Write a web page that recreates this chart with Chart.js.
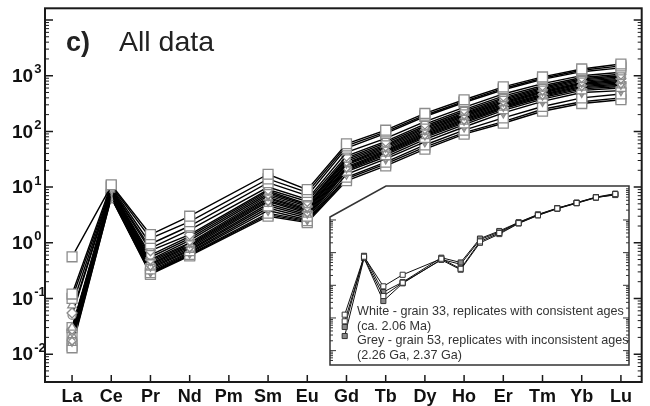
<!DOCTYPE html>
<html>
<head>
<meta charset="utf-8">
<script src="https://cdn.jsdelivr.net/npm/chart.js@4.4.1/dist/chart.umd.min.js"></script>
<style>
  html, body { margin: 0; padding: 0; background: #fff; }
  #wrap { position: relative; width: 650px; height: 406px; font-family: "Liberation Sans", Arial, sans-serif; }
  #main { position: absolute; left: 0; top: 0; width: 650px; height: 406px; }
  #inset { position: absolute; left: 325px; top: 181px; width: 309px; height: 189px; }
  .title { position: absolute; left: 66px; top: 25px; font-size: 27px; color: #222; white-space: nowrap; line-height: normal; }
  .title b { margin-right: 29px; }
  .title span { font-size: 28.5px; }
  .note { position: absolute; left: 357px; top: 304px; font-size: 12.6px; line-height: 14.7px; color: #333; white-space: nowrap; }
</style>
</head>
<body>
<div id="wrap">
  <canvas id="main" width="650" height="406"></canvas>
  <canvas id="inset" width="309" height="189"></canvas>
  <div class="title"><b>c)</b><span>All data</span></div>
  <div class="note">White - grain 33, replicates with consistent ages<br>(ca. 2.06 Ma)<br>Grey - grain 53, replicates with inconsistent ages<br>(2.26 Ga, 2.37 Ga)</div>
</div>
<script>
// rare earth elements (chondrite normalised), Pm not measured
const elements = ['La', 'Ce', 'Pr', 'Nd', 'Pm', 'Sm', 'Eu', 'Gd', 'Tb', 'Dy', 'Ho', 'Er', 'Tm', 'Yb', 'Lu'];

// all analyses
const g01 = [0.12, 11, 1.4, 3.0, null, 17, 9.0, 60, 105, 210, 370, 630, 950, 1320, 1620];
const g02 = [0.56, 10.5, 1.2, 2.4, null, 14, 8.0, 55, 98, 195, 345, 590, 900, 1250, 1500];
const g03 = [0.10, 10, 0.95, 2.0, null, 12, 7.0, 50, 92, 185, 330, 560, 860, 1180, 1380];
const g04 = [0.075, 9.5, 0.8, 1.7, null, 10, 6.0, 42, 75, 150, 270, 470, 720, 1000, 1150];
const g05 = [0.055, 9.2, 0.72, 1.4, null, 9.0, 5.5, 36, 66, 135, 245, 430, 660, 930, 1060];
const g06 = [0.05, 9.0, 0.6, 1.3, null, 8.5, 5.0, 33, 62, 125, 230, 400, 620, 880, 1000];
const g07 = [0.03, 8.8, 0.55, 1.2, null, 8.0, 4.8, 31, 58, 118, 215, 380, 590, 840, 950];
const g08 = [0.028, 8.6, 0.5, 1.1, null, 7.5, 4.5, 29, 55, 112, 205, 360, 560, 800, 900];
const g09 = [0.025, 8.4, 0.48, 1.0, null, 7.0, 4.2, 27, 52, 105, 195, 340, 530, 760, 860];
const g10 = [0.022, 8.2, 0.45, 0.95, null, 6.5, 4.0, 26, 49, 100, 185, 325, 510, 730, 820];
const g11 = [0.02, 8.0, 0.42, 0.9, null, 6.2, 3.8, 25, 46, 95, 175, 310, 490, 700, 780];
const g12 = [0.018, 7.8, 0.4, 0.85, null, 5.8, 3.6, 23, 44, 90, 165, 295, 465, 670, 740];
const g13 = [0.017, 7.6, 0.38, 0.8, null, 5.5, 3.4, 22, 42, 86, 158, 280, 445, 640, 700];
const g14 = [0.016, 7.4, 0.36, 0.75, null, 5.0, 3.2, 21, 40, 82, 150, 268, 425, 610, 670];
const g15 = [0.03, 7.2, 0.34, 0.72, null, 4.6, 3.0, 20, 38, 78, 142, 255, 405, 580, 640];
const g16 = [0.027, 7.0, 0.32, 0.68, null, 4.2, 2.8, 19, 35, 72, 132, 238, 380, 545, 600];
const g17 = [0.024, 6.8, 0.3, 0.65, null, 3.8, 2.6, 17, 32, 65, 120, 215, 345, 500, 540];
const g18 = [0.021, 6.6, 0.29, 0.62, null, 3.4, 2.5, 15, 28, 57, 105, 175, 280, 400, 470];
const g19 = [0.013, 6.4, 0.27, 0.58, null, 3.0, 2.3, 13, 24, 48, 89, 140, 230, 316, 370];
const g20 = [0.014, 6.5, 0.28, 0.6, null, 3.2, 2.4, 14, 26, 52, 95, 150, 250, 340, 400];
const allSeries = [g01, g02, g03, g04, g05, g06, g07, g08, g09, g10, g11, g12, g13, g14, g15, g16, g17, g18, g19, g20];

// inset: grain 33 (white) and grain 53 (grey) replicates
const white1 = [0.126, 7.5, 0.93, 2.1, null, 6.5, 3.2, 22, 40, 80, 140, 225, 330, 490, 620];
const white2 = [0.079, 7.0, 0.47, 1.2, null, 6.0, 3.0, 20, 37, 78, 138, 220, 325, 480, 600];
const grey1 = [0.053, 8.0, 0.62, 1.25, null, 7.0, 5.0, 27, 46, 85, 148, 230, 340, 500, 640];
const grey2 = [0.028, 6.8, 0.33, 1.15, null, 6.2, 4.4, 25, 43, 83, 145, 228, 335, 495, 580];

const markers = ['rect', 'rect', 'rect', 'triangle', 'rectRot', 'circle', 'triangle', 'rectRot', 'triangleDown', 'triangle',
    'crossRot', 'rectRot', 'triangleDown', 'triangle', 'rect', 'rectRot', 'triangleDown', 'rect', 'rect', 'rect'];

function markerOpts(name) {
    if (name === 'rect') return { pointStyle: 'rect', pointRadius: 7, pointRotation: 0 };
    if (name === 'triangleDown') return { pointStyle: 'triangle', pointRadius: 5, pointRotation: 180 };
    if (name === 'circle') return { pointStyle: 'circle', pointRadius: 4, pointRotation: 0 };
    if (name === 'crossRot') return { pointStyle: 'crossRot', pointRadius: 4.5, pointRotation: 0 };
    return { pointStyle: name, pointRadius: 5, pointRotation: 0 };
}

function toPoints(arr) {
    return arr.map((v, i) => ({ x: i, y: v }));
}

const FONT = '"Liberation Sans", Arial, sans-serif';

function sigOf(v) {
    return v / Math.pow(10, Math.floor(Math.log10(v) + 1e-9));
}

// frame, inward ticks and 10^n labels for the main panel
const mainFrame = {
    id: 'mainFrame',
    afterDraw(chart) {
        const { ctx, chartArea: a, scales: { x, y } } = chart;
        ctx.save();
        ctx.strokeStyle = '#1a1a1a';
        ctx.fillStyle = '#111';
        y.ticks.forEach(t => {
            const sig = sigOf(t.value);
            if (Math.abs(sig - 1.5) < 0.01) return;
            const py = y.getPixelForValue(t.value);
            if (py < a.top + 2 || py > a.bottom - 2) return;
            const major = Math.abs(sig - 1) < 0.01 || Math.abs(sig - 10) < 0.05;
            const len = major ? 8 : 4;
            ctx.lineWidth = major ? 1.5 : 1;
            ctx.beginPath();
            ctx.moveTo(a.left, py); ctx.lineTo(a.left + len, py);
            ctx.moveTo(a.right, py); ctx.lineTo(a.right - len, py);
            ctx.stroke();
            if (major) {
                const e = Math.round(Math.log10(t.value));
                if (e > 3) return;
                ctx.textAlign = 'left';
                ctx.textBaseline = 'middle';
                ctx.font = 'bold 19px ' + FONT;
                ctx.fillText('10', 12, py + 1);
                const w = ctx.measureText('10').width;
                ctx.font = 'bold 13px ' + FONT;
                ctx.fillText(String(e), 12 + w + 1, py - 6);
            }
        });
        ctx.lineWidth = 1.5;
        elements.forEach((el, i) => {
            const px = x.getPixelForValue(i);
            ctx.beginPath();
            ctx.moveTo(px, a.bottom); ctx.lineTo(px, a.bottom - 7);
            ctx.stroke();
        });
        ctx.lineWidth = 2;
        ctx.strokeRect(a.left, a.top, a.right - a.left, a.bottom - a.top);
        ctx.restore();
    }
};

new Chart(document.getElementById('main').getContext('2d'), {
    type: 'line',
    data: {
        datasets: allSeries.map((s, k) => Object.assign({
            data: toPoints(s),
            borderColor: '#000',
            borderWidth: 1.4,
            pointBackgroundColor: '#fff',
            pointBorderColor: '#8c8c8c',
            pointBorderWidth: 1.3,
            spanGaps: true,
            tension: 0
        }, markerOpts(markers[k])))
    },
    options: {
        responsive: false,
        animation: false,
        devicePixelRatio: 1,
        layout: { padding: { top: 5, right: 7, left: 0, bottom: 0 } },
        plugins: { legend: { display: false }, tooltip: { enabled: false } },
        scales: {
            x: {
                type: 'linear',
                min: -0.69,
                max: 14.53,
                grid: { display: false, drawTicks: false },
                border: { display: false },
                ticks: {
                    stepSize: 1,
                    maxTicksLimit: 40,
                    includeBounds: false,
                    autoSkip: false,
                    maxRotation: 0,
                    padding: 4,
                    color: '#111',
                    font: { family: FONT, size: 18, weight: 'bold' },
                    callback: v => (Number.isInteger(v) && elements[v]) ? elements[v] : ''
                },
                afterFit: s => { s.height = 24; }
            },
            y: {
                type: 'logarithmic',
                min: Math.pow(10, -2.5),
                max: Math.pow(10, 4.21),
                grid: { display: false, drawTicks: false },
                border: { display: false },
                ticks: { display: false, autoSkip: false },
                afterFit: s => { s.width = 45; }
            }
        }
    },
    plugins: [mainFrame]
});

// inset panel with white background and cut corner
const insetFrame = {
    id: 'insetFrame',
    beforeDraw(chart) {
        const { ctx, chartArea: a } = chart;
        ctx.save();
        ctx.beginPath();
        ctx.moveTo(a.left, a.top + 31);
        ctx.lineTo(a.left + 56, a.top);
        ctx.lineTo(a.right, a.top);
        ctx.lineTo(a.right, a.bottom);
        ctx.lineTo(a.left, a.bottom);
        ctx.closePath();
        ctx.fillStyle = '#fff';
        ctx.fill();
        ctx.lineWidth = 1.5;
        ctx.strokeStyle = '#333';
        ctx.stroke();
        ctx.restore();
    },
    afterDraw(chart) {
        const { ctx, chartArea: a, scales: { y } } = chart;
        ctx.save();
        ctx.strokeStyle = '#333';
        y.ticks.forEach(t => {
            const sig = sigOf(t.value);
            if (Math.abs(sig - 1.5) < 0.01) return;
            const py = y.getPixelForValue(t.value);
            if (py < a.top + 2 || py > a.bottom - 2) return;
            const major = Math.abs(sig - 1) < 0.01 || Math.abs(sig - 10) < 0.05;
            const len = major ? 6 : 3;
            ctx.lineWidth = 1;
            ctx.beginPath();
            if (py > a.top + 33) { ctx.moveTo(a.left, py); ctx.lineTo(a.left + len, py); }
            ctx.moveTo(a.right, py); ctx.lineTo(a.right - len, py);
            ctx.stroke();
        });
        ctx.restore();
    }
};

const insetSets = [
    { d: white1, fill: '#fff' },
    { d: white2, fill: '#fff' },
    { d: grey1, fill: '#8a8a8a' },
    { d: grey2, fill: '#8a8a8a' }
];

new Chart(document.getElementById('inset').getContext('2d'), {
    type: 'line',
    data: {
        datasets: insetSets.map(s => ({
            data: toPoints(s.d),
            borderColor: '#111',
            borderWidth: 1,
            pointStyle: 'rect',
            pointRadius: 3.6,
            pointBackgroundColor: s.fill,
            pointBorderColor: '#333',
            pointBorderWidth: 1,
            spanGaps: true,
            tension: 0
        }))
    },
    options: {
        responsive: false,
        animation: false,
        devicePixelRatio: 1,
        layout: { padding: 2 },
        plugins: { legend: { display: false }, tooltip: { enabled: false } },
        scales: {
            x: {
                type: 'linear',
                min: -0.76,
                max: 14.71,
                grid: { display: false, drawTicks: false },
                border: { display: false },
                ticks: { display: false },
                afterFit: s => { s.height = 0; }
            },
            y: {
                type: 'logarithmic',
                min: Math.pow(10, -2.44),
                max: Math.pow(10, 3.04),
                grid: { display: false, drawTicks: false },
                border: { display: false },
                ticks: { display: false, autoSkip: false },
                afterFit: s => { s.width = 0; }
            }
        }
    },
    plugins: [insetFrame]
});
</script>
</body>
</html>
